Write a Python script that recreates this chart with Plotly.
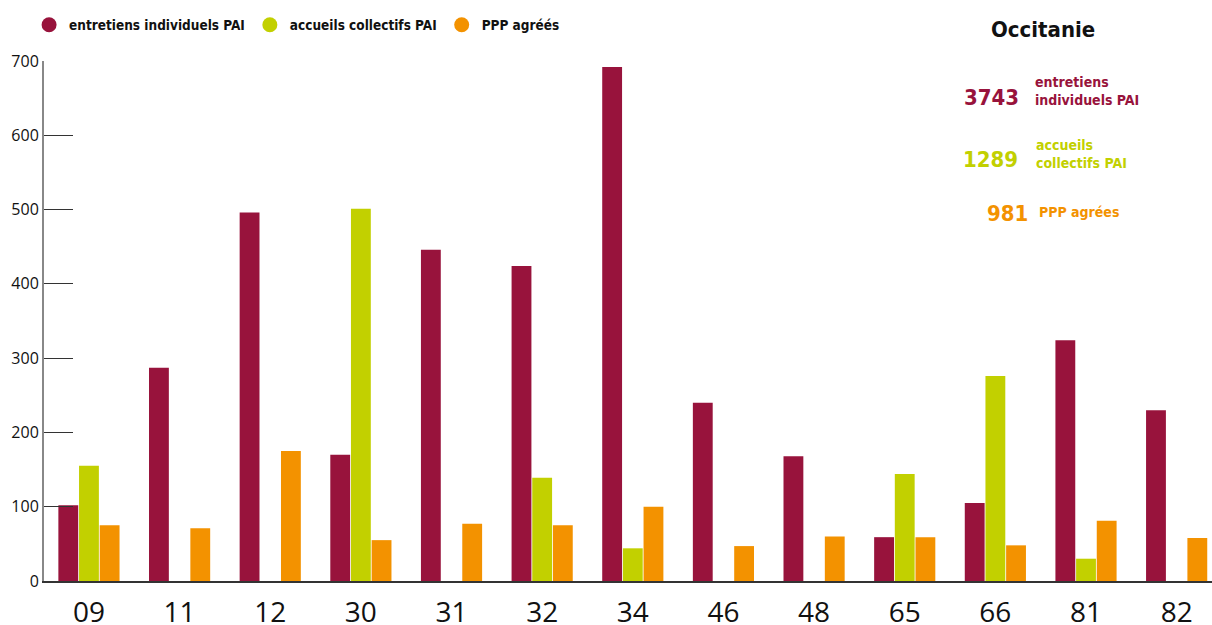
import plotly.graph_objects as go

departements = ["09", "11", "12", "30", "31", "32", "34", "46", "48", "65", "66", "81", "82"]
entretiens = [102, 287, 496, 170, 446, 424, 692, 240, 168, 59, 105, 324, 230]
accueils = [155, 0, 0, 501, 0, 139, 44, 0, 0, 144, 276, 30, 0]
ppp = [75, 71, 175, 55, 77, 75, 100, 47, 60, 59, 48, 81, 58]
series_names = ["entretiens individuels PAI", "accueils collectifs PAI", "PPP agréés"]
y_ticks = [0, 100, 200, 300, 400, 500, 600, 700]

C1, C2, C3 = "#98133C", "#C2D000", "#F39200"
COND = "DejaVu Sans Condensed, Liberation Sans Narrow, sans-serif"

fig = go.Figure()
for name, vals, col in zip(series_names, [entretiens, accueils, ppp], [C1, C2, C3]):
    fig.add_trace(go.Bar(x=departements, y=vals, name=name, marker_color=col,
                         marker_line_width=0, showlegend=False))
for name, col in zip(series_names, [C1, C2, C3]):
    fig.add_trace(go.Scatter(x=[None], y=[None], mode="markers", name=name,
                             marker=dict(color=col, size=15, symbol="circle"), showlegend=True))

fig.update_layout(
    width=1212, height=625,
    margin=dict(l=44, r=0, t=61, b=44),
    paper_bgcolor="white", plot_bgcolor="white",
    barmode="group", bargap=0.316, bargroupgap=0.04,
    legend=dict(orientation="h", xref="container", yref="container",
                x=0.024, y=1 - 25 / 625, xanchor="left", yanchor="middle",
                font=dict(family=COND, size=13.5, color="#111", weight="bold"),
                itemsizing="trace", bgcolor="rgba(0,0,0,0)"),
    xaxis=dict(type="category", range=[-0.496, 12.39], showline=True, linecolor="#333",
               linewidth=1.5, ticks="", showgrid=False, zeroline=False, automargin=False,
               tickfont=dict(family="Open Sans, sans-serif", size=28, color="#111"),
               ticklabelstandoff=6),
    yaxis=dict(range=[0, 700], tickvals=y_ticks, showline=True, linecolor="#888", linewidth=2,
               ticks="inside", ticklen=29, tickcolor="#333", tickwidth=1.2,
               showgrid=False, zeroline=False, automargin=False,
               tickfont=dict(family="Open Sans, sans-serif", size=16, color="#111")),
    font=dict(family=COND),
)

tot1, tot2, tot3 = sum(entretiens), sum(accueils), sum(ppp)
ann = [
    dict(text="<b>Occitanie</b>", x=1043, y=30, size=22, color="#111", xanchor="center"),
    dict(text=f"<b>{tot1}</b>", x=1021, y=98, size=22, color=C1, xanchor="right"),
    dict(text="<b>entretiens<br>individuels PAI</b>", x=1033, y=91, size=14, color=C1, xanchor="left"),
    dict(text=f"<b>{tot2}</b>", x=1020, y=159, size=22, color=C2, xanchor="right"),
    dict(text="<b>accueils<br>collectifs PAI</b>", x=1034, y=154, size=14, color=C2, xanchor="left"),
    dict(text=f"<b>{tot3}</b>", x=1030, y=213, size=22, color=C3, xanchor="right"),
    dict(text="<b>PPP agrées</b>", x=1037, y=212, size=14, color=C3, xanchor="left"),
]
for a in ann:
    fig.add_annotation(text=a["text"], xref="paper", yref="paper",
                       x=(a["x"] - 44) / 1168, y=1 - (a["y"] - 61) / 520,
                       xanchor=a["xanchor"], yanchor="middle", showarrow=False,
                       align="left", font=dict(family=COND, size=a["size"], color=a["color"]))

fig.write_html("out.html", config={"displayModeBar": False},
               post_script="document.body.style.margin='0';document.body.style.overflow='hidden';")
